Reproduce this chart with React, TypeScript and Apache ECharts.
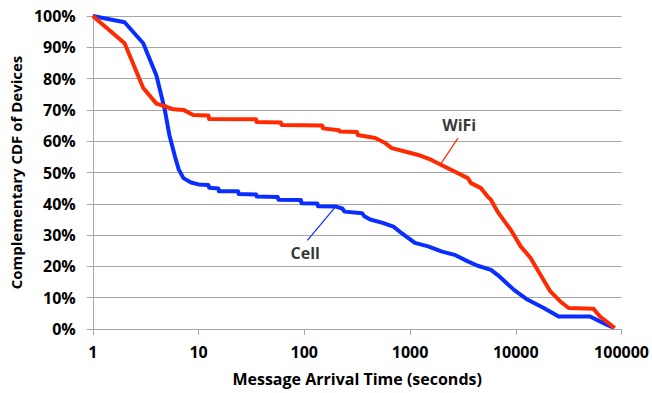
import React, { useEffect, useRef } from "react";
import * as echarts from "echarts";

const xTicks = [1, 10, 100, 1000, 10000, 100000];
const yTicks = [0, 10, 20, 30, 40, 50, 60, 70, 80, 90, 100];

const cellSeries: [number, number][] = [
  [1, 100], [2, 98], [3, 91.3], [4, 81], [4.8, 70], [5.3, 62], [6, 55], [6.5, 51], [7.2, 48.2],
  [8.5, 46.8], [10, 46.2], [12.4, 46], [12.6, 45.1], [15.4, 44.9], [15.6, 44], [23.7, 44],
  [24, 43.1], [35, 43], [35.5, 42.3], [56, 42.2], [57, 41.3], [93, 41.2], [94, 40.2],
  [133, 40.1], [135, 39.2], [200, 39.1], [229, 38.5], [240, 37.5], [352, 37], [370, 36],
  [420, 35], [542, 34], [697, 32.7], [834, 30.6], [1111, 27.5], [1483, 26.4], [1978, 24.8],
  [2636, 23.7], [3516, 21.6], [4365, 20.2], [5820, 18.9], [6715, 17.3], [9620, 12.5],
  [12850, 9.4], [18380, 6.7], [25400, 4.0], [50350, 4.0], [72150, 1.4], [83200, 0.5],
];

const wifiSeries: [number, number][] = [
  [1, 100], [2, 91.3], [3, 77], [4, 72], [5, 71], [5.8, 70.2], [7.2, 70], [8.9, 68.4],
  [12.4, 68.2], [12.6, 67.1], [35, 67], [35.5, 66.1], [60, 66], [61, 65.2], [148, 65],
  [150, 64.1], [213, 63.5], [216, 63.1], [316, 62.9], [320, 62], [469, 61], [582, 59.4],
  [672, 57.8], [896, 56.7], [1197, 55.6], [1595, 54], [1978, 52.4], [2636, 50.3],
  [3516, 48.2], [3776, 46.6], [4690, 45], [5420, 42.3], [5820, 41.3], [6715, 37.5],
  [8950, 31.7], [11120, 26.4], [13800, 22.7], [17100, 17.3], [21240, 12], [26360, 8.8],
  [31570, 6.7], [54080, 6.5], [62500, 4.0], [72150, 2.4], [86300, 0.3],
];

const wifiLeader: [number, number][] = [[2837, 61], [1978, 53]];
const cellLeader: [number, number][] = [[107, 28.3], [198, 39.1]];
const labels = [
  { name: "WiFi", value: [2917, 65.2] },
  { name: "Cell", value: [102, 24.2] },
];

const RED = "#FF2A00";
const BLUE = "#0A2EFF";
const FONT = "Open Sans";
const FS = 16;

export default function App() {
  const ref = useRef<HTMLDivElement>(null);
  useEffect(() => {
    if (!ref.current) return;
    const chart = echarts.init(ref.current, undefined, { renderer: "svg" });
    chart.setOption({
      animation: false,
      grid: { left: 88, right: 30, top: 16, bottom: 64, containLabel: false },
      xAxis: {
        type: "log",
        logBase: 10,
        min: xTicks[0],
        max: xTicks[xTicks.length - 1],
        name: "Message Arrival Time (seconds)",
        nameLocation: "middle",
        nameGap: 42,
        nameTextStyle: { fontFamily: FONT, fontWeight: "bold", fontSize: FS, color: "#000" },
        axisLine: { show: true, lineStyle: { color: "#A6A6A6", width: 1 } },
        axisTick: { show: true, length: 6, lineStyle: { color: "#A6A6A6" } },
        minorTick: { show: false },
        splitLine: { show: false },
        axisLabel: {
          margin: 15,
          fontFamily: FONT,
          fontWeight: "bold",
          fontSize: FS,
          color: "#000",
          formatter: (v: number) => String(Math.round(v)),
        },
      },
      yAxis: {
        type: "value",
        min: yTicks[0],
        max: yTicks[yTicks.length - 1],
        interval: 10,
        name: "Complementary CDF of Devices",
        nameLocation: "middle",
        nameGap: 63,
        nameTextStyle: { fontFamily: FONT, fontWeight: "bold", fontSize: 15, color: "#000" },
        axisLine: { show: true, lineStyle: { color: "#A6A6A6", width: 1 } },
        axisTick: { show: true, length: 6, lineStyle: { color: "#A6A6A6" } },
        splitLine: { show: true, lineStyle: { color: "#A6A6A6", width: 1 } },
        axisLabel: {
          margin: 17,
          fontFamily: FONT,
          fontWeight: "bold",
          fontSize: FS,
          color: "#000",
          formatter: (v: number) => v + "%",
        },
      },
      series: [
        {
          name: "Cell",
          type: "line",
          data: cellSeries,
          showSymbol: false,
          symbol: "none",
          lineStyle: { color: BLUE, width: 4, join: "round" },
          itemStyle: { color: BLUE },
          z: 2,
        },
        {
          name: "WiFi",
          type: "line",
          data: wifiSeries,
          showSymbol: false,
          symbol: "none",
          lineStyle: { color: RED, width: 4, join: "round" },
          itemStyle: { color: RED },
          z: 3,
        },
        {
          type: "line",
          data: wifiLeader,
          symbol: "none",
          silent: true,
          lineStyle: { color: RED, width: 1.2 },
          z: 4,
        },
        {
          type: "line",
          data: cellLeader,
          symbol: "none",
          silent: true,
          lineStyle: { color: BLUE, width: 1.2 },
          z: 4,
        },
        {
          type: "scatter",
          data: labels,
          symbolSize: 0,
          silent: true,
          label: {
            show: true,
            position: "inside",
            formatter: (p: any) => p.name,
            fontFamily: FONT,
            fontWeight: "bold",
            fontSize: FS,
            color: "#000",
          },
          z: 5,
        },
      ],
    });
    return () => chart.dispose();
  }, []);
  return (
    <div
      ref={ref}
      style={{ position: "fixed", left: 0, top: 0, width: 652, height: 393, background: "#fff" }}
    />
  );
}
